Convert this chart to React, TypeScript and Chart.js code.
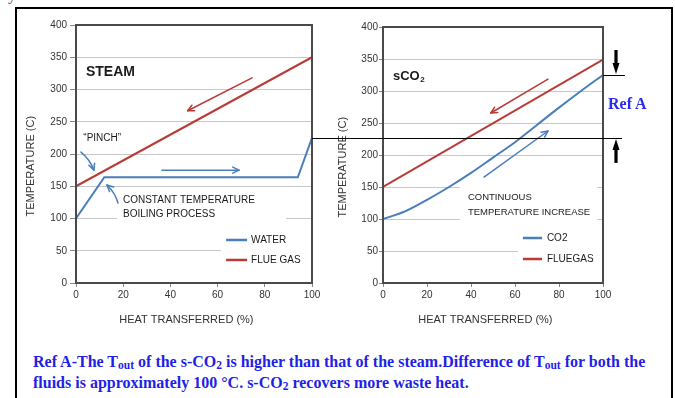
import React, { useEffect, useRef } from "react";
import { Chart, registerables } from "chart.js";
Chart.register(...registerables);

// ---------- data ----------
const X_TICK_STEP = 20;
const Y_TICK_STEP = 50;
const steamWaterX = [0, 12, 94, 100];
const steamWaterT = [100, 164, 164, 225];
const steamGasX = [0, 100];
const steamGasT = [150, 350];
const co2X = [0, 10, 20, 30, 40, 50, 60, 70, 80, 90, 100];
const co2T = [100, 112, 130, 150, 172, 196, 220, 247, 274, 300, 325];
const co2GasX = [0, 100];
const co2GasT = [150, 349];

const X_TITLE = "HEAT TRANSFERRED (%)";
const Y_TITLE = "TEMPERATURE (C)";
const LEFT_LEGEND = ["WATER", "FLUE GAS"];
const RIGHT_LEGEND = ["CO2", "FLUEGAS"];

// ---------- styles ----------
const RED = "#b83b37";
const BLUE = "#4a7ebb";
const SANS = "'Liberation Sans', Arial, sans-serif";
const SERIF = "'Liberation Serif', 'Times New Roman', serif";
const TXT = "#1a1a1a";

type Note = { text: string; x: number; y: number; size: number; bold?: boolean; sub?: string };
type Arrow = { from: [number, number]; to: [number, number]; color: string; bend?: number };
type Box = { x0: number; x1: number; y0: number; y1: number };
type Leg = { label: string; color: string; y: number };

type Cfg = {
  w: number;
  h: number;
  padTop: number;
  padRight: number;
  yWidth: number;
  yTickLen: number;
  yTickPad: number;
  yTitlePad: number;
  notes: Note[];
  arrows: Arrow[];
  boxes: Box[];
  legend: Leg[];
  legSeg: [number, number, number];
  extra?: (chart: any) => void;
};

function pts(xs: number[], ys: number[]) {
  return xs.map((x, i) => ({ x, y: ys[i] }));
}

function drawArrow(ctx: CanvasRenderingContext2D, x1: number, y1: number, x2: number, y2: number, color: string, bend = 0) {
  ctx.save();
  ctx.strokeStyle = color;
  ctx.lineWidth = 1.5;
  ctx.lineCap = "round";
  ctx.lineJoin = "round";
  ctx.beginPath();
  ctx.moveTo(x1, y1);
  let ang: number;
  if (bend) {
    const mx = (x1 + x2) / 2, my = (y1 + y2) / 2;
    const dx = x2 - x1, dy = y2 - y1;
    const len = Math.hypot(dx, dy);
    const cx = mx - (dy / len) * bend, cy = my + (dx / len) * bend;
    ctx.quadraticCurveTo(cx, cy, x2, y2);
    ang = Math.atan2(y2 - cy, x2 - cx);
  } else {
    ctx.lineTo(x2, y2);
    ang = Math.atan2(y2 - y1, x2 - x1);
  }
  ctx.stroke();
  const hl = 7, a = 0.45;
  ctx.beginPath();
  ctx.moveTo(x2 - hl * Math.cos(ang - a), y2 - hl * Math.sin(ang - a));
  ctx.lineTo(x2, y2);
  ctx.lineTo(x2 - hl * Math.cos(ang + a), y2 - hl * Math.sin(ang + a));
  ctx.stroke();
  ctx.restore();
}

function drawBlockArrow(ctx: CanvasRenderingContext2D, x: number, yTail: number, yTip: number) {
  const dir = Math.sign(yTip - yTail);
  const headLen = 11, headW = 3.5, shaftW = 1.6;
  const yBase = yTip - dir * headLen;
  ctx.save();
  ctx.fillStyle = "#000";
  ctx.fillRect(x - shaftW, Math.min(yTail, yBase), shaftW * 2, Math.abs(yBase - yTail));
  ctx.beginPath();
  ctx.moveTo(x - headW, yBase);
  ctx.lineTo(x + headW, yBase);
  ctx.lineTo(x, yTip);
  ctx.closePath();
  ctx.fill();
  ctx.restore();
}

function annotPlugin(cfg: Cfg) {
  return {
    id: "annot",
    beforeDatasetsDraw(chart: any) {
      const { ctx, scales } = chart;
      const X = (v: number) => scales.x.getPixelForValue(v);
      const Y = (v: number) => scales.y.getPixelForValue(v);
      ctx.save();
      ctx.fillStyle = "#fff";
      cfg.boxes.forEach((b) => {
        ctx.fillRect(X(b.x0), Y(b.y0), X(b.x1) - X(b.x0), Y(b.y1) - Y(b.y0));
      });
      ctx.restore();
    },
    afterDatasetsDraw(chart: any) {
      const { ctx, scales, chartArea } = chart;
      const X = (v: number) => scales.x.getPixelForValue(v);
      const Y = (v: number) => scales.y.getPixelForValue(v);
      ctx.save();
      ctx.strokeStyle = "#4a4a4a";
      ctx.lineWidth = 2;
      ctx.strokeRect(chartArea.left, chartArea.top, chartArea.right - chartArea.left, chartArea.bottom - chartArea.top);
      ctx.fillStyle = TXT;
      ctx.textBaseline = "middle";
      ctx.textAlign = "left";
      cfg.notes.forEach((n) => {
        ctx.font = `${n.bold ? "bold " : ""}${n.size}px ${SANS}`;
        const px = X(n.x), py = Y(n.y);
        ctx.fillText(n.text, px, py);
        if (n.sub) {
          const w = ctx.measureText(n.text).width;
          ctx.font = `${n.bold ? "bold " : ""}${Math.round(n.size * 0.6)}px ${SANS}`;
          ctx.fillText(n.sub, px + w + 0.5, py + n.size * 0.3);
        }
      });
      cfg.arrows.forEach((a) => drawArrow(ctx, X(a.from[0]), Y(a.from[1]), X(a.to[0]), Y(a.to[1]), a.color, a.bend || 0));
      const [s0, s1, tx] = cfg.legSeg;
      ctx.font = `10px ${SANS}`;
      cfg.legend.forEach((l) => {
        ctx.strokeStyle = l.color;
        ctx.lineWidth = 2.5;
        ctx.beginPath();
        ctx.moveTo(X(s0), Y(l.y));
        ctx.lineTo(X(s1), Y(l.y));
        ctx.stroke();
        ctx.fillStyle = TXT;
        ctx.fillText(l.label, X(tx), Y(l.y));
      });
      ctx.restore();
      if (cfg.extra) cfg.extra(chart);
    },
  };
}

function makeChart(canvas: HTMLCanvasElement, cfg: Cfg, datasets: any[]) {
  return new Chart(canvas, {
    type: "line",
    data: { datasets },
    plugins: [annotPlugin(cfg) as any],
    options: {
      responsive: false,
      maintainAspectRatio: false,
      animation: false,
      layout: { padding: { top: cfg.padTop, right: cfg.padRight, left: 0, bottom: 0 } },
      plugins: { legend: { display: false }, tooltip: { enabled: false } },
      elements: { point: { radius: 0 }, line: { borderWidth: 2 } },
      scales: {
        x: {
          type: "linear",
          min: 0,
          max: 100,
          grid: { drawOnChartArea: false, tickLength: 4, tickColor: "#888" },
          border: { display: false },
          ticks: { stepSize: X_TICK_STEP, padding: 2, color: "#333", font: { size: 10 }, maxRotation: 0, autoSkip: false },
          title: { display: true, text: X_TITLE + "\u00A0".repeat(5), color: "#333", font: { size: 11 }, padding: { top: 0, bottom: 13 } },
          afterFit: (s: any) => {
            s.height = 57;
          },
        },
        y: {
          type: "linear",
          min: 0,
          max: 400,
          grid: { color: "#c8c8c8", tickLength: cfg.yTickLen, tickColor: "#888" },
          border: { display: false },
          ticks: { stepSize: Y_TICK_STEP, padding: cfg.yTickPad, color: "#333", font: { size: 10 } },
          title: { display: true, text: Y_TITLE + "\u00A0".repeat(8), color: "#333", font: { size: 11 }, padding: { top: cfg.yTitlePad, bottom: 0 } },
          afterFit: (s: any) => {
            s.width = cfg.yWidth;
          },
        },
      },
    } as any,
  });
}

const LEFT_X = 0;
const RIGHT_X = 300;

export default function App() {
  const leftRef = useRef<HTMLCanvasElement>(null);
  const rightRef = useRef<HTMLCanvasElement>(null);

  useEffect(() => {
    document.body.style.margin = "0";
    Chart.defaults.font.family = SANS;
    const leftCfg: Cfg = {
      w: 340,
      h: 340,
      padTop: 25,
      padRight: 28,
      yWidth: 76,
      yTickLen: 6,
      yTickPad: 3,
      yTitlePad: 24.4,
      notes: [
        { text: "STEAM", x: 4.2, y: 327, size: 14, bold: true },
        { text: "\u201CPINCH\u201D", x: 3.1, y: 225, size: 10 },
        { text: "CONSTANT TEMPERATURE", x: 19.9, y: 128.7, size: 10 },
        { text: "BOILING PROCESS", x: 19.9, y: 107, size: 10 },
      ],
      arrows: [
        { from: [74.6, 318], to: [47.3, 267], color: RED },
        { from: [36.4, 175], to: [69.1, 175], color: BLUE },
        { from: [2.1, 203], to: [7.6, 175], color: BLUE, bend: -3 },
        { from: [17.8, 124], to: [13.1, 152], color: BLUE, bend: 3 },
      ],
      boxes: [
        { x0: 17.4, x1: 89, y0: 144, y1: 85 },
        { x0: 61.4, x1: 100, y0: 85, y1: 17 },
      ],
      legend: [
        { label: LEFT_LEGEND[0], color: BLUE, y: 66.7 },
        { label: LEFT_LEGEND[1], color: RED, y: 35.7 },
      ],
      legSeg: [63.6, 72.5, 74.2],
    };
    const left = makeChart(leftRef.current!, leftCfg, [
      { data: pts(steamGasX, steamGasT), borderColor: RED, tension: 0 },
      { data: pts(steamWaterX, steamWaterT), borderColor: BLUE, tension: 0 },
    ]);

    const rightCfg: Cfg = {
      w: 375,
      h: 340,
      padTop: 27,
      padRight: 72,
      yWidth: 83,
      yTickLen: 4,
      yTickPad: 1,
      yTitlePad: 36.4,
      notes: [
        { text: "sCO", sub: "2", x: 4.5, y: 323, size: 13, bold: true },
        { text: "CONTINUOUS", x: 38.6, y: 134, size: 9.5 },
        { text: "TEMPERATURE INCREASE", x: 38.6, y: 111, size: 9.5 },
      ],
      arrows: [
        { from: [75, 318.7], to: [49, 265.6], color: RED },
        { from: [45.9, 165.6], to: [75, 237.5], color: BLUE },
      ],
      boxes: [
        { x0: 35, x1: 97.3, y0: 156, y1: 89 },
        { x0: 61.4, x1: 100, y0: 89, y1: 17 },
      ],
      legend: [
        { label: RIGHT_LEGEND[0], color: BLUE, y: 70.3 },
        { label: RIGHT_LEGEND[1], color: RED, y: 37.5 },
      ],
      legSeg: [63.6, 72.3, 74.5],
      extra: (chart: any) => {
        const { ctx, scales, chartArea } = chart;
        const yTop = scales.y.getPixelForValue(co2T[co2T.length - 1]);
        const yLow = left.scales.y.getPixelForValue(steamWaterT[steamWaterT.length - 1]);
        const xStart = left.chartArea.right + LEFT_X - RIGHT_X;
        const ax = chartArea.right + 13;
        ctx.save();
        ctx.strokeStyle = "#000";
        ctx.lineWidth = 1;
        ctx.beginPath();
        ctx.moveTo(chartArea.right, Math.round(yTop) + 0.5);
        ctx.lineTo(chartArea.right + 22, Math.round(yTop) + 0.5);
        ctx.moveTo(xStart, Math.round(yLow) + 0.5);
        ctx.lineTo(chartArea.right + 19, Math.round(yLow) + 0.5);
        ctx.stroke();
        ctx.restore();
        drawBlockArrow(ctx, ax, yTop - 25, yTop - 1);
        drawBlockArrow(ctx, ax, yLow + 25, yLow + 1);
      },
    };
    const right = makeChart(rightRef.current!, rightCfg, [
      { data: pts(co2GasX, co2GasT), borderColor: RED, tension: 0 },
      { data: pts(co2X, co2T), borderColor: BLUE, cubicInterpolationMode: "monotone" },
    ]);
    return () => {
      left.destroy();
      right.destroy();
    };
  }, []);

  const sub: React.CSSProperties = { fontSize: "0.72em", position: "relative", top: "0.18em" };

  return (
    <div style={{ position: "relative", width: 675, height: 398, overflow: "hidden", background: "#fff" }}>
      <div style={{ position: "absolute", left: 8, top: -13, fontFamily: SERIF, fontSize: 16, lineHeight: "16px", color: "#555", whiteSpace: "nowrap" }}>
        y the same waste heat sources.
      </div>
      <div style={{ position: "absolute", left: 15, top: 7, width: 658, height: 420, border: "2px solid #000", boxSizing: "border-box" }} />
      <canvas ref={leftRef} width={340} height={340} style={{ position: "absolute", left: LEFT_X, top: 0, width: 340, height: 340 }} />
      <canvas ref={rightRef} width={375} height={340} style={{ position: "absolute", left: RIGHT_X, top: 0, width: 375, height: 340 }} />
      <div style={{ position: "absolute", left: 608, top: 95, fontFamily: SERIF, fontWeight: "bold", fontSize: 16, lineHeight: "18px", color: "#2b2bf0", whiteSpace: "nowrap" }}>
        Ref A
      </div>
      <div style={{ position: "absolute", left: 33, top: 352, fontFamily: SERIF, fontWeight: "bold", fontSize: 16, lineHeight: "19px", color: "#1f1fe6", whiteSpace: "nowrap" }}>
        Ref A-The T<span style={sub}>out</span> of the s-CO<span style={sub}>2</span> is higher than that of the steam.Difference of T<span style={sub}>out</span> for both the
        <br />
        fluids is approximately 100 °C. s-CO<span style={sub}>2</span> recovers more waste heat.
      </div>
    </div>
  );
}
